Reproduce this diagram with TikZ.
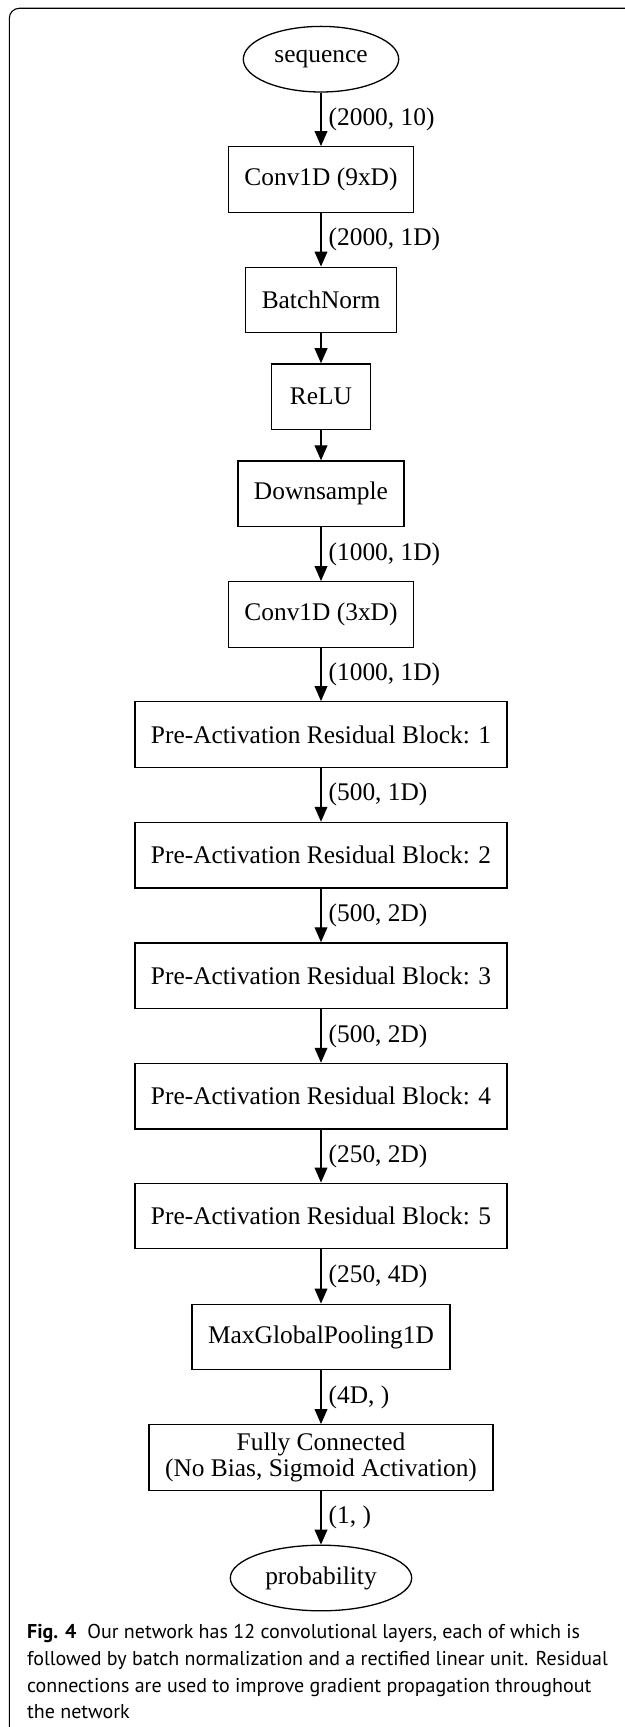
\documentclass[tikz,border=0pt]{standalone}
\usepackage{fontspec}
\setmainfont{Liberation Serif}
\newfontfamily\captionfont{PT Sans}
\usetikzlibrary{shapes.geometric, arrows.meta, positioning}

\begin{document}
\begin{tikzpicture}[x=0.5pt, y=-0.5pt,
    layer/.style={draw, line width=0.65pt, minimum width=49.3pt, minimum height=32.8pt,
                  inner xsep=8pt, inner ysep=2pt, align=center,
                  font=\fontsize{12.7}{12.7}\selectfont},
    terminal/.style={draw, ellipse, line width=0.65pt, minimum height=32.8pt,
                     inner xsep=4.2pt, inner ysep=2pt, font=\fontsize{12.7}{12.7}\selectfont},
    flow/.style={-{Triangle[length=7.5pt, width=6.4pt]}, line width=0.65pt},
    dims/.style={midway, anchor=west, inner sep=0pt, xshift=3.5pt,
                 font=\fontsize{12.7}{12.7}\selectfont}
]
    \useasboundingbox (0,0) rectangle (625,1727);

    % panel frame
    \draw[line width=0.55pt, rounded corners=5pt] (9.3,1727) -- (9.3,8.3) -- (625,8.3);

    % network
    \node[terminal] (seq) at (321,59.2) {sequence};
    \node[layer] (conva) at (321,179.5) {Conv1D (9xD)};
    \node[layer] (bnorm) at (321,300) {BatchNorm};
    \node[layer] (relu) at (321,396.7) {ReLU};
    \node[layer] (down) at (321,493.8) {Downsample};
    \node[layer] (convb) at (321,614.5) {Conv1D (3xD)};
    \node[layer] (res1) at (321,734.5) {Pre-Activation Residual Block: 1};
    \node[layer] (res2) at (321,855.2) {Pre-Activation Residual Block: 2};
    \node[layer] (res3) at (321,975.7) {Pre-Activation Residual Block: 3};
    \node[layer] (res4) at (321,1096.2) {Pre-Activation Residual Block: 4};
    \node[layer] (res5) at (321,1216) {Pre-Activation Residual Block: 5};
    \node[layer] (pool) at (321,1337) {MaxGlobalPooling1D};
    \node[layer] (fc) at (321,1457.5) {Fully Connected\\(No Bias, Sigmoid Activation)};
    \node[terminal] (prob) at (321,1578) {probability};

    \draw[flow] (seq) -- (conva) node[dims] {(2000, 10)};
    \draw[flow] (conva) -- (bnorm) node[dims] {(2000, 1D)};
    \draw[flow] (bnorm) -- (relu);
    \draw[flow] (relu) -- (down);
    \draw[flow] (down) -- (convb) node[dims] {(1000, 1D)};
    \draw[flow] (convb) -- (res1) node[dims] {(1000, 1D)};
    \draw[flow] (res1) -- (res2) node[dims] {(500, 1D)};
    \draw[flow] (res2) -- (res3) node[dims] {(500, 2D)};
    \draw[flow] (res3) -- (res4) node[dims] {(500, 2D)};
    \draw[flow] (res4) -- (res5) node[dims] {(250, 2D)};
    \draw[flow] (res5) -- (pool) node[dims] {(250, 4D)};
    \draw[flow] (pool) -- (fc) node[dims] {(4D, )};
    \draw[flow] (fc) -- (prob) node[dims] {(1, )};

    % caption
    \node[anchor=north west, inner sep=0pt, align=left,
          font=\captionfont\fontsize{10}{13.35}\selectfont] (caption) at (26.7,1624)
        {\textbf{Fig. 4}\hspace{5.5pt}Our network has 12 convolutional layers, each of which is\\
         followed by batch normalization and a rectified linear unit. Residual\\
         connections are used to improve gradient propagation throughout\\
         the network};
\end{tikzpicture}
\end{document}
